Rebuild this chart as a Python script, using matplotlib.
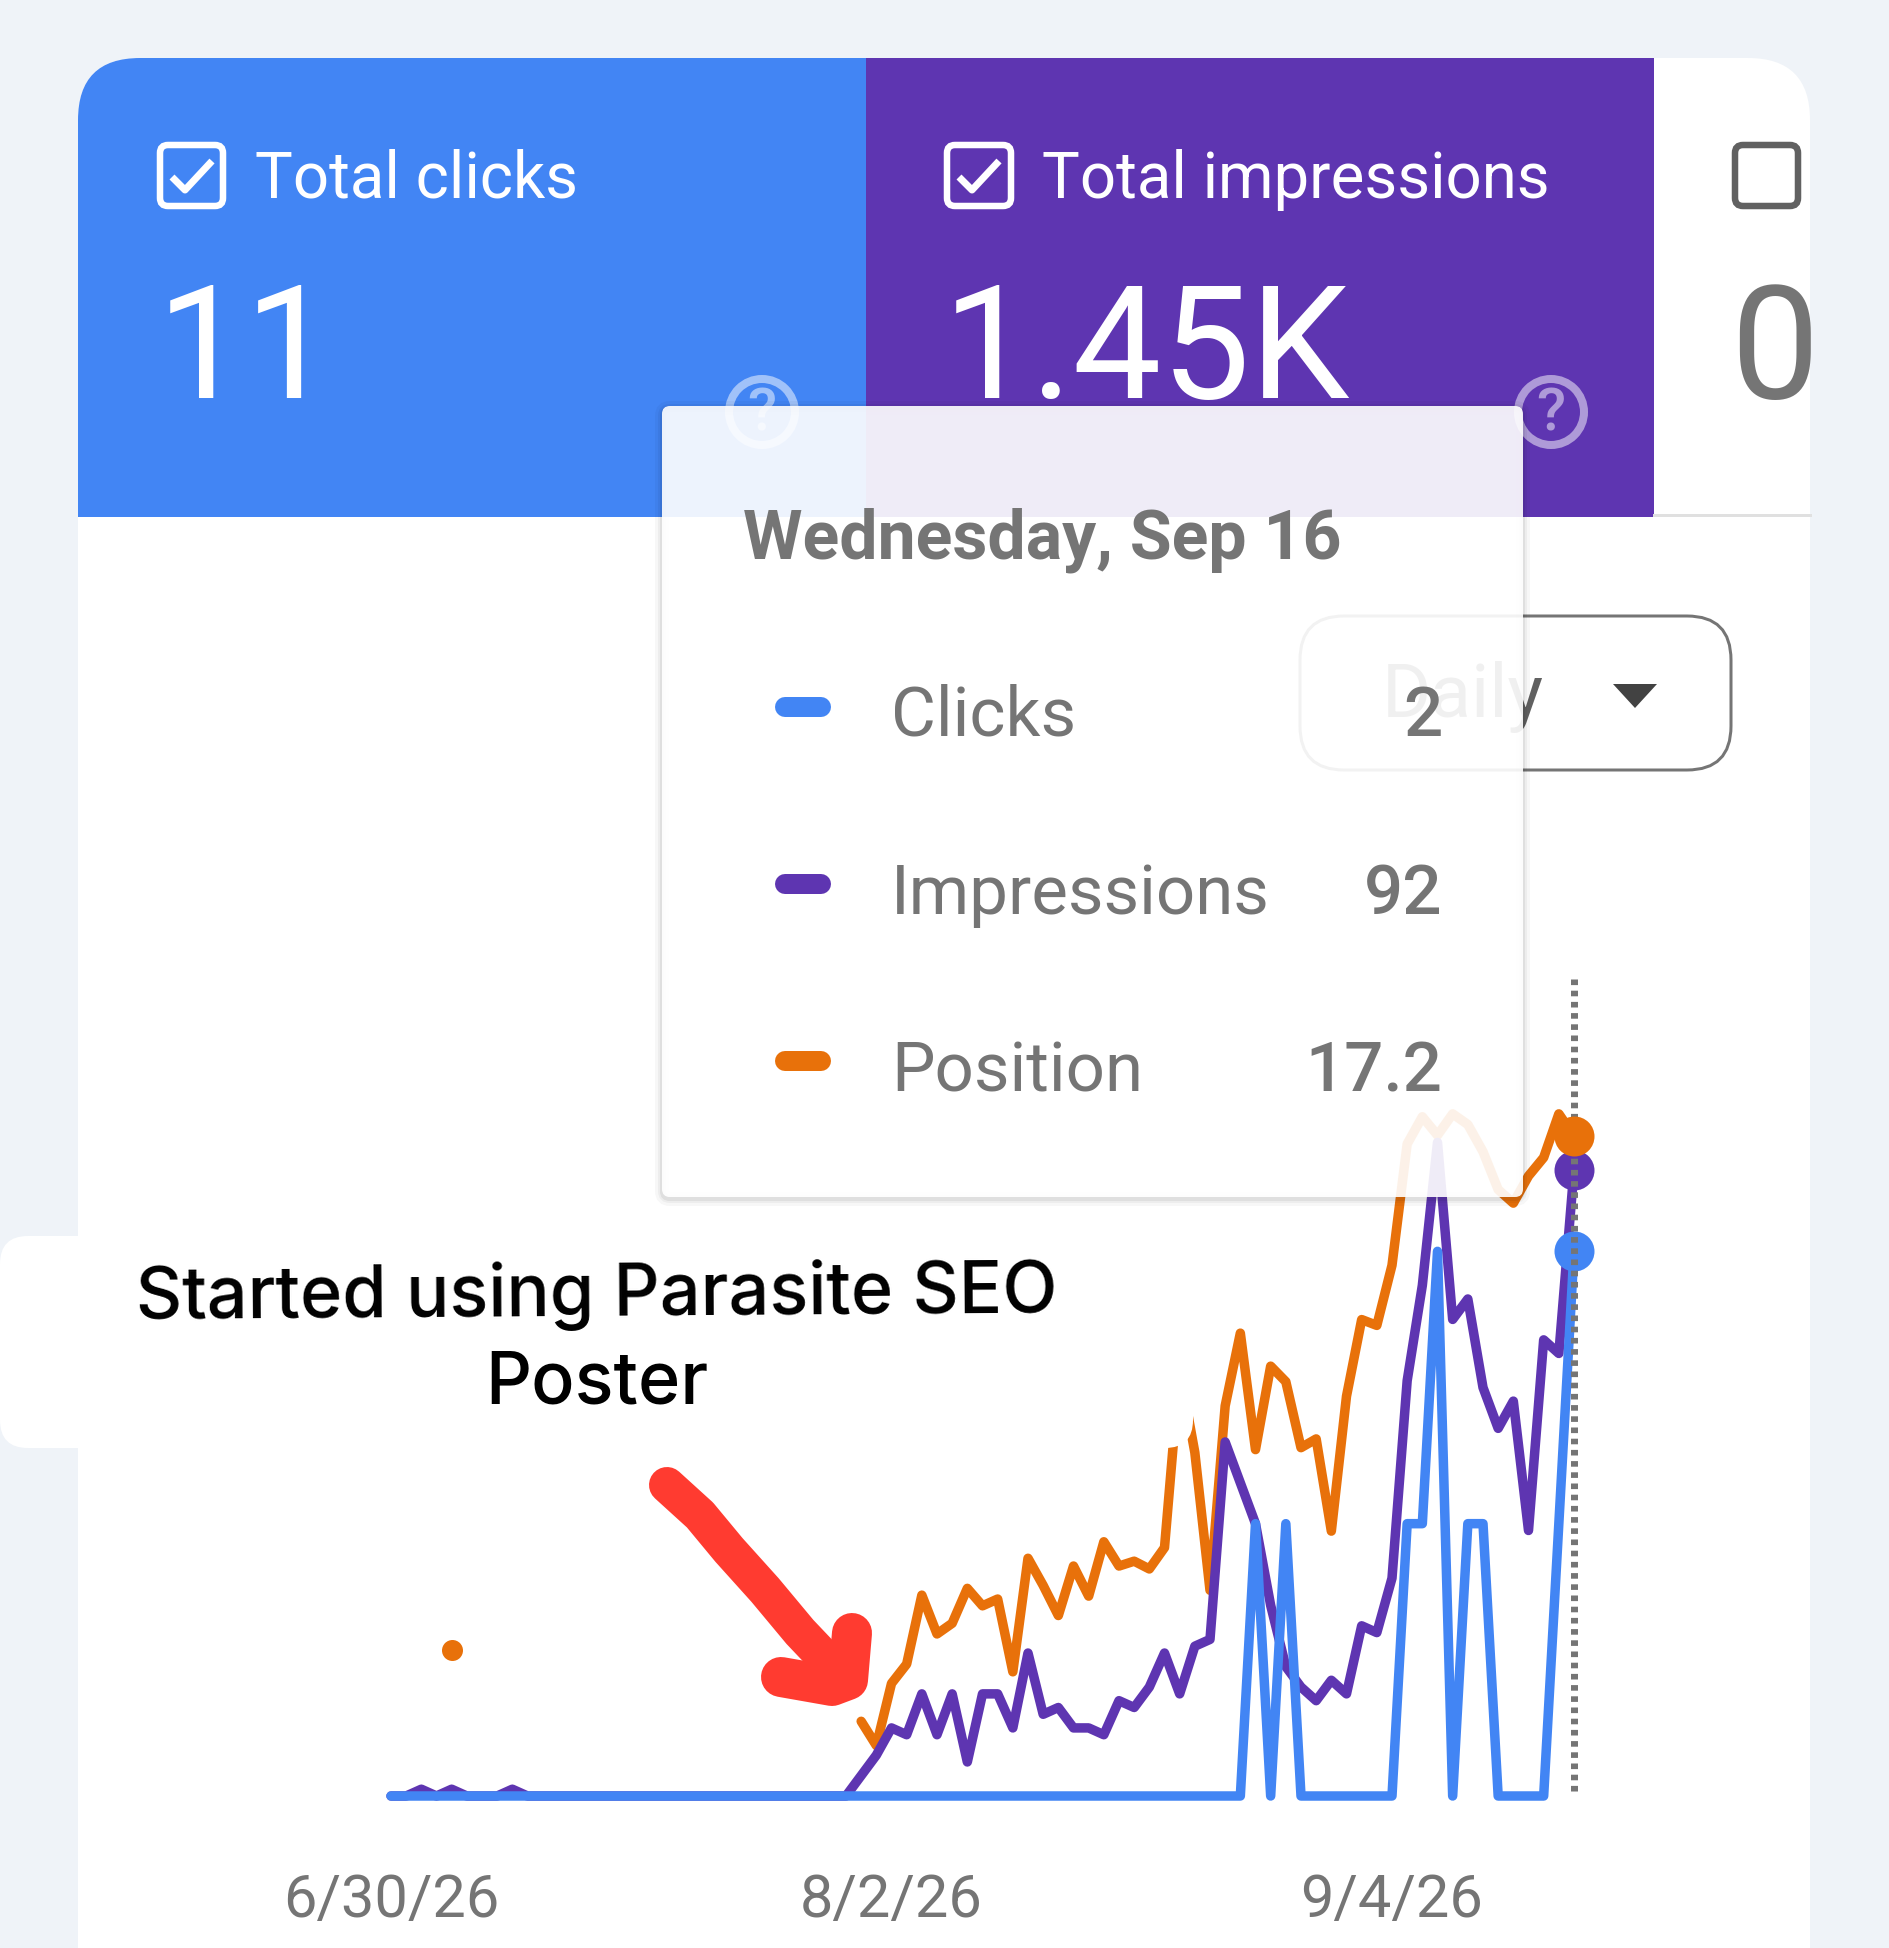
import numpy as np
import pandas as pd
import matplotlib
matplotlib.use("Agg")
import matplotlib.pyplot as plt
from matplotlib.patches import FancyBboxPatch, Rectangle, Circle, Polygon

W, H = 1890, 1948

# daily values, 6/30/26 to 9/16/26
start_date = "2026-06-30"
clicks = [0] * 57 + [1, 0, 1, 0, 0, 0, 0, 0, 0, 0, 1, 1, 2, 0, 1, 1, 0, 0, 0, 0, 1, 2]
impressions = [
    0, 0, 1, 0, 1, 0, 0, 0, 1, 0, 0, 0, 0, 0, 0, 0, 0, 0, 0, 0,
    0, 0, 0, 0, 0, 0, 0, 0, 0, 0, 0, 3, 6, 10, 9, 15, 9, 15, 5, 15,
    15, 10, 21, 12, 13, 10, 10, 9, 14, 13, 16, 21, 15, 22, 23, 52, 46, 40, 28, 19,
    16, 14, 17, 15, 25, 24, 32, 61, 75, 96, 70, 73, 60, 54, 58, 39, 67, 65, 92,
]
position = [
    None, None, None, None, 70.2, None, None, None, None, None,
    None, None, None, None, None, None, None, None, None, None,
    None, None, None, None, None, None, None, None, None, None, None,
    77.5, 80, 73.6, 71.6, 64.5, 68.5, 67.4, 63.8, 65.6,
    64.9, 72.4, 60.7, 63.5, 66.6, 61.5, 64.6, 59, 61.5, 61,
    61.8, 59.6, 41.2, 49.8, 64, 45, 37.5, 49.5, 40.9, 42.5,
    49.3, 48.4, 57.9, 44, 36.1, 36.7, 30.5, 18, 15.2, 17.1,
    14.9, 16, 18.8, 22.7, 24.1, 21.3, 19.4, 14.9, 17.2,
]
tick_dates = ["2026-06-30", "2026-08-02", "2026-09-04"]
tick_labels = ["6/30/26", "8/2/26", "9/4/26"]

tooltip_date = "Wednesday, Sep 16"
tooltip_names = ["Clicks", "Impressions", "Position"]
tooltip_values = ["2", "92", "17.2"]

BLUE = "#4285F4"
PURPLE = "#5E35B1"
ORANGE = "#E8710A"
GREY = "#757575"
BG = "#EFF3F8"
RED = "#FF3B30"


def pt(px):
    return px * 0.72


def rbox(ax, x0, y0, x1, y1, r, **kw):
    p = FancyBboxPatch((x0, y0), x1 - x0, y1 - y0,
                       boxstyle=f"round,pad=0,rounding_size={r}", **kw)
    ax.add_patch(p)
    return p


def pixel_axes(fig, z):
    a = fig.add_axes([0, 0, 1, 1], zorder=z)
    a.set_xlim(0, W)
    a.set_ylim(H, 0)
    a.axis("off")
    a.patch.set_alpha(0)
    return a


def help_icon(ax, x, y):
    ax.add_patch(Circle((x, y), 33, fill=False, ec="white", lw=pt(8), alpha=0.5))
    ax.text(x, y + 2, "?", color="white", alpha=0.5, fontsize=pt(60),
            ha="center", va="center", family="Roboto", fontweight="medium")


def checkbox(ax, x0, y0, x1, y1, edge, tick=True):
    rbox(ax, x0, y0, x1, y1, 8, fc="none", ec=edge, lw=pt(6.5))
    if tick:
        ax.plot([x0 + 12, x0 + 25, x0 + 52], [y0 + 32, y0 + 45, y0 + 16],
                color=edge, lw=pt(7), solid_capstyle="butt")


plt.rcParams["font.family"] = ["Roboto", "DejaVu Sans"]
fig = plt.figure(figsize=(W / 100, H / 100), dpi=100, facecolor=BG)

# card, tabs and the period selector sit under the chart
base = pixel_axes(fig, 0)
card = rbox(base, 78, 58, 1810, 2200, 62, fc="white", ec="none")
for x0, x1, col in [(78, 866, BLUE), (866, 1654, PURPLE)]:
    base.add_patch(Rectangle((x0, 58), x1 - x0, 459, fc=col, ec="none", clip_path=card))
base.plot([1654, 1810], [515, 515], color="#E0E0E0", lw=pt(3))

checkbox(base, 160, 145, 223, 206, "white")
checkbox(base, 947, 145, 1011, 206, "white")
checkbox(base, 1735, 145, 1798, 206, "#616161", tick=False)
base.text(255, 180, "Total clicks", color="white", fontsize=pt(63.5), va="center")
base.text(1042, 180, "Total impressions", color="white", fontsize=pt(63.5), va="center")

big = dict(fontsize=pt(158), fontweight="normal", va="baseline")
base.text(157, 398, "11", color="white", **big)
base.text(943, 398, "1.45K", color="white", **big)
zero = base.text(1730, 398, "0", color=GREY, clip_on=True, **big)
zero.set_clip_path(card)
help_icon(base, 762, 412)
help_icon(base, 1551, 412)

rbox(base, 1300, 616, 1731, 770, 44, fc="white", ec=GREY, lw=pt(3))
base.text(1382, 697, "Daily", color="#616161", fontsize=pt(75), va="center")
base.add_patch(Polygon([(1613, 684), (1657, 684), (1635, 708)], fc="#424242", ec="none"))

# one time axis, three value scales
dates = pd.date_range(start_date, periods=len(clicks), freq="D")
pos = np.array(position, dtype=float)
left, right, bottom, top = 391, 1574, 1796, 979

ax_pos = fig.add_axes([left / W, 1 - bottom / H, (right - left) / W, (bottom - top) / H], zorder=1)
ax_imp = fig.add_axes(ax_pos.get_position(), zorder=2, sharex=ax_pos)
ax_clk = fig.add_axes(ax_pos.get_position(), zorder=3, sharex=ax_pos)
for a in (ax_pos, ax_imp, ax_clk):
    a.patch.set_alpha(0)
    for s in a.spines.values():
        s.set_visible(False)
    a.tick_params(length=0)
    a.set_yticks([])

ax_pos.set_xlim(dates[0], dates[-1])
ax_pos.set_ylim(85.2, 1)
ax_imp.set_ylim(0, 120)
ax_clk.set_ylim(0, 3)

line = dict(lw=pt(9.5), solid_joinstyle="round", solid_capstyle="round", clip_on=False)
ax_pos.plot(dates, pos, color=ORANGE, **line)
alone = np.isnan(np.r_[np.nan, pos[:-1]]) & np.isnan(np.r_[pos[1:], np.nan])
ax_pos.plot(dates[alone], pos[alone], "o", color=ORANGE, ms=pt(21), mec="none", clip_on=False)
ax_imp.plot(dates, impressions, color=PURPLE, **line)
ax_clk.plot(dates, clicks, color=BLUE, **line)

dot = dict(marker="o", ms=pt(40), mec="none", clip_on=False, ls="none")
ax_imp.plot(dates[-1], impressions[-1], color=PURPLE, **dot)
ax_clk.plot(dates[-1], clicks[-1], color=BLUE, **dot)
ax_clk.plot([dates[-1], dates[-1]], [0.02, 3], color=GREY, lw=pt(7), ls=(0, (0.8, 0.8)), clip_on=False, zorder=4)
# orange dot stays on top of the dotted marker line
ax_clk.plot(dates[-1], pos[-1], color=ORANGE, transform=ax_pos.transData, zorder=5, **dot)

for a in (ax_imp, ax_clk):
    a.tick_params(labelbottom=False)
ax_pos.set_xticks(pd.to_datetime(tick_dates))
ax_pos.set_xticklabels(tick_labels, fontsize=pt(59.5), color=GREY)
ax_pos.tick_params(axis="x", pad=pt(76))

# tooltip and annotation cover the lines
over = pixel_axes(fig, 5)
for lw, alpha in [(14, 0.03), (8, 0.04), (4, 0.06)]:
    rbox(over, 662, 408, 1523, 1199, 8, fc="none", ec="#000000", lw=pt(lw), alpha=alpha)
rbox(over, 662, 406, 1523, 1197, 8, fc="white", ec="none", alpha=0.91)
over.text(743, 540, tooltip_date, color=GREY, fontsize=pt(68), fontweight="bold", va="center")
for name, val, col, y, ty in zip(tooltip_names, tooltip_values, [BLUE, PURPLE, ORANGE],
                                 [707, 884, 1061], [717, 895, 1073]):
    over.plot([785, 821], [y, y], color=col, lw=pt(20), solid_capstyle="round")
    over.text(891, ty, name, color=GREY, fontsize=pt(69), va="center")
    over.text(1442, ty, val, color=GREY, fontsize=pt(69), fontweight="medium", va="center", ha="right")

rbox(over, 0, 1236, 1193, 1448, 28, fc="white", ec="none")
note = dict(color="black", fontsize=pt(72), family=["Inter", "DejaVu Sans"], fontweight="medium",
            ha="center", va="center")
over.text(597, 1296, "Started using Parasite SEO", rotation=0.4, **note)
over.text(597, 1385, "Poster", **note)

# hand drawn red arrow
over.plot([667, 700, 729, 765, 800, 838], [1485, 1515, 1550, 1590, 1632, 1672],
          color=RED, lw=pt(36), solid_capstyle="round", solid_joinstyle="round")
over.plot([852, 848, 832, 781], [1633, 1680, 1686, 1677],
          color=RED, lw=pt(40), solid_capstyle="round", solid_joinstyle="round")

fig.savefig("out.png", dpi=100, facecolor=BG)
